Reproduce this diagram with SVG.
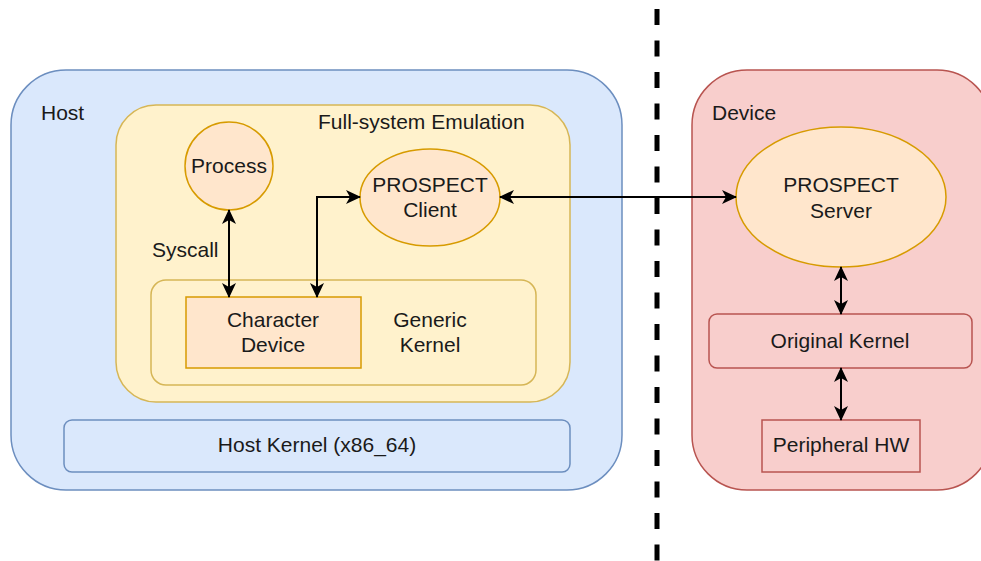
<svg xmlns="http://www.w3.org/2000/svg" width="981" height="561" viewBox="0 0 981 561">
<style>
text{font-family:"Liberation Sans",Arial,sans-serif;font-size:21px;fill:#1a1a1a}
.c{text-anchor:middle}
.blue{fill:#dae8fc;stroke:#6c8ebf;stroke-width:1.5}
.yel{fill:#fff2cc;stroke:#d6b656;stroke-width:1.5}
.org{fill:#ffe6cc;stroke:#d79b00;stroke-width:1.5}
.red{fill:#f8cecc;stroke:#b85450;stroke-width:1.5}
.conn{fill:none;stroke:#000;stroke-width:2;marker-start:url(#arr);marker-end:url(#arr)}
</style>
<defs>
<marker id="arr" viewBox="0 0 15 14" refX="14" refY="7" markerWidth="15" markerHeight="14" markerUnits="userSpaceOnUse" orient="auto-start-reverse">
<path d="M0,0 L15,7 L0,14 L4,7 Z" fill="#000"/>
</marker>
</defs>
<g id="host"><rect class="blue" x="11" y="70" width="611" height="420" rx="55"/><text x="41" y="120">Host</text></g>
<g id="fullsys"><rect class="yel" x="116" y="105" width="454" height="297" rx="40"/><text x="318" y="129">Full-system Emulation</text></g>
<g id="generic-kernel"><rect class="yel" x="151" y="280" width="385" height="105" rx="15"/><text class="c" x="430" y="327">Generic</text><text class="c" x="430" y="352">Kernel</text></g>
<g id="host-kernel"><rect class="blue" x="64" y="420" width="506" height="52" rx="8"/><text class="c" x="317" y="452">Host Kernel (x86_64)</text></g>
<g id="process"><circle class="org" cx="229" cy="166" r="44"/><text class="c" x="229" y="173">Process</text></g>
<g id="client"><ellipse class="org" cx="430" cy="197.5" rx="70" ry="48.5"/><text class="c" x="430" y="192">PROSPECT</text><text class="c" x="430" y="217">Client</text></g>
<g id="chardev"><rect class="org" x="186" y="297" width="175" height="71"/><text class="c" x="273" y="327">Character</text><text class="c" x="273" y="352">Device</text></g>
<g id="device"><rect class="red" x="692" y="70" width="300" height="420" rx="55"/><text x="712" y="120">Device</text></g>
<g id="server"><ellipse class="org" cx="841" cy="197" rx="105" ry="70"/><text class="c" x="841" y="192">PROSPECT</text><text class="c" x="841" y="218">Server</text></g>
<g id="orig-kernel"><rect class="red" x="709" y="314" width="263" height="54" rx="8"/><text class="c" x="840" y="348">Original Kernel</text></g>
<g id="peripheral"><rect class="red" x="762" y="420" width="158" height="52"/><text class="c" x="841" y="452">Peripheral HW</text></g>
<g id="connectors">
<path class="conn" d="M229,210 L229,297"/>
<text x="152" y="257">Syscall</text>
<path class="conn" d="M360,197 L317,197 L317,297"/>
<path class="conn" d="M500,197 L736,197"/>
<path class="conn" d="M841,267 L841,314"/>
<path class="conn" d="M841,368 L841,420"/>
<line x1="657" y1="9" x2="657" y2="561" stroke="#000" stroke-width="5" stroke-dasharray="16 15.5"/>
</g>
</svg>
